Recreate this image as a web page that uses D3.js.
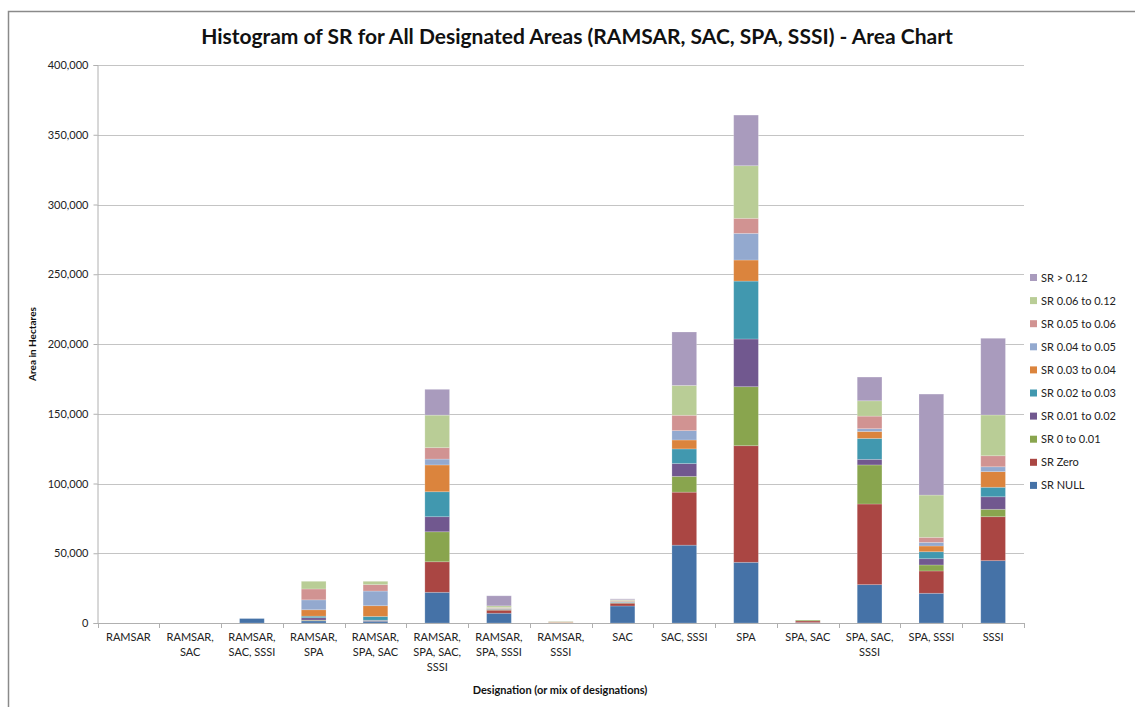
<!DOCTYPE html>
<html><head><meta charset="utf-8">
<script src="https://cdn.jsdelivr.net/npm/d3@7/dist/d3.min.js"></script>
<style>
html,body{margin:0;padding:0;background:#fff;}
svg{display:block;font-family:Lato,"Open Sans",sans-serif;}
</style></head>
<body><svg id="c" width="1135" height="707"></svg>
<script>
const categories = ["RAMSAR","RAMSAR,\nSAC","RAMSAR,\nSAC, SSSI","RAMSAR,\nSPA","RAMSAR,\nSPA, SAC","RAMSAR,\nSPA, SAC,\nSSSI","RAMSAR,\nSPA, SSSI","RAMSAR,\nSSSI","SAC","SAC, SSSI","SPA","SPA, SAC","SPA, SAC,\nSSSI","SPA, SSSI","SSSI"];
const seriesNames = ["SR NULL","SR Zero","SR 0 to 0.01","SR 0.01 to 0.02","SR 0.02 to 0.03","SR 0.03 to 0.04","SR 0.04 to 0.05","SR 0.05 to 0.06","SR 0.06 to 0.12","SR > 0.12"];
const seriesColors = ["#4572A7","#AA4643","#89A54E","#71588F","#4198AF","#DB843D","#93A9CF","#D19392","#B9CD96","#A99BBD"];
// values per series, one per category (hectares)
const srNull    = [0,0,3200,1500,1300,22000,7000,200,12200,55800,43500,300,27500,21300,44700];
const srZero    = [0,0,0,300,200,21900,2200,100,2000,38000,83600,1200,57800,16000,31500];
const sr0to001  = [0,0,0,300,200,21500,500,100,400,11300,42300,600,28000,4300,5300];
const sr001to002= [0,0,0,1700,300,10800,300,0,200,9200,34200,0,4000,4500,9000];
const sr002to003= [0,0,0,1100,2700,17900,300,0,300,10500,41500,0,15000,5000,6800];
const sr003to004= [0,0,0,4600,7700,19200,300,300,500,6400,15100,0,5000,4100,11200];
const sr004to005= [0,0,0,7100,10500,4200,200,100,200,6700,19100,0,2000,2600,3500];
const sr005to006= [0,0,0,7800,4600,8200,300,200,300,11000,10800,0,9000,3600,7900];
const sr006to012= [0,0,0,5500,2400,23300,1200,300,600,21400,37700,0,11000,30300,29200];
const srGt012   = [0,0,0,0,0,18500,7200,0,600,38300,36300,0,17000,72400,55000];
const yTicks = [0,50000,100000,150000,200000,250000,300000,350000,400000];

const seriesValues = [srNull,srZero,sr0to001,sr001to002,sr002to003,sr003to004,sr004to005,sr005to006,sr006to012,srGt012];
const rows = categories.map((c,i)=>{const r={cat:c}; seriesNames.forEach((s,j)=>r[s]=seriesValues[j][i]); return r;});
const stacked = d3.stack().keys(seriesNames)(rows);

const svg = d3.select("#c");
const m = {l:97.5, r:1024, t:65, b:623};
const x = d3.scaleBand().domain(categories).range([m.l,m.r]).padding(0);
const y = d3.scaleLinear().domain([0,400000]).range([m.b,m.t]);

// frame
svg.append("path").attr("d","M8.5,707 L8.5,11.5 L1135,11.5").attr("fill","none").attr("stroke","#8a8a8a").attr("stroke-width",1.5);

// gridlines
svg.append("g").selectAll("line").data(yTicks.slice(1)).join("line")
  .attr("x1",m.l).attr("x2",m.r).attr("y1",d=>Math.round(y(d))+0.5).attr("y2",d=>Math.round(y(d))+0.5)
  .attr("stroke","#c4c4c4").attr("stroke-width",1);

// y axis
const ya = svg.append("g").attr("transform",`translate(${m.l},0)`)
  .call(d3.axisLeft(y).tickValues(yTicks).tickSize(4).tickPadding(5).tickFormat(d3.format(",")));
ya.select(".domain").attr("stroke","#b0b0b0");
ya.selectAll(".tick line").attr("stroke","#b0b0b0");
ya.selectAll("text").attr("font-size",11).attr("fill","#222").attr("font-family","Lato,'Open Sans',sans-serif");

// bars
const bw = x.bandwidth()*0.4;
svg.append("g").selectAll("g").data(stacked).join("g")
  .attr("fill",(d,i)=>seriesColors[i])
  .selectAll("rect").data(d=>d).join("rect")
  .attr("x",d=>x(d.data.cat)+(x.bandwidth()-bw)/2)
  .attr("width",bw)
  .attr("y",d=>y(d[1]))
  .attr("height",d=>Math.max(0,y(d[0])-y(d[1])))
  .attr("stroke","rgba(255,255,255,0.25)").attr("stroke-width",0.8);

// x axis
const xa = svg.append("g").attr("transform",`translate(0,${m.b})`);
xa.append("line").attr("x1",m.l).attr("x2",m.r).attr("y1",0.5).attr("y2",0.5).attr("stroke","#b0b0b0");
const bounds = categories.map(c=>x(c)).concat([m.r]);
xa.selectAll("line.tk").data(bounds).join("line").attr("class","tk")
  .attr("x1",d=>Math.round(d)+0.5).attr("x2",d=>Math.round(d)+0.5).attr("y1",0).attr("y2",5).attr("stroke","#b0b0b0");
const lbl = xa.selectAll("text.cl").data(categories).join("text").attr("class","cl")
  .attr("text-anchor","middle").attr("font-size",11).attr("fill","#222")
  .attr("transform",d=>`translate(${x(d)+x.bandwidth()/2},18)`);
lbl.selectAll("tspan").data(d=>d.split("\n")).join("tspan")
  .attr("x",0).attr("dy",(d,i)=>i===0?0:15).text(d=>d);

// titles
svg.append("text").attr("x",577).attr("y",44).attr("text-anchor","middle")
  .attr("font-size",21).attr("font-weight","bold").attr("fill","#111")
  .text("Histogram of SR for All Designated Areas (RAMSAR, SAC, SPA, SSSI) - Area Chart");
svg.append("text").attr("x",560).attr("y",694).attr("text-anchor","middle")
  .attr("font-size",11).attr("font-weight","bold").attr("fill","#111")
  .text("Designation (or mix of designations)");
svg.append("text").attr("transform","translate(36,344) rotate(-90)").attr("text-anchor","middle")
  .attr("font-size",10).attr("font-weight","bold").attr("fill","#111")
  .text("Area in Hectares");

// legend
const legOrder = seriesNames.map((s,i)=>i).reverse();
const lg = svg.append("g").selectAll("g").data(legOrder).join("g")
  .attr("transform",(d,k)=>`translate(1030,${278+k*23.1})`);
lg.append("rect").attr("x",0).attr("y",-4).attr("width",7).attr("height",7).attr("fill",d=>seriesColors[d]);
lg.append("text").attr("x",11).attr("y",3.5).attr("font-size",11).attr("fill","#222").text(d=>seriesNames[d]);
</script></body></html>
